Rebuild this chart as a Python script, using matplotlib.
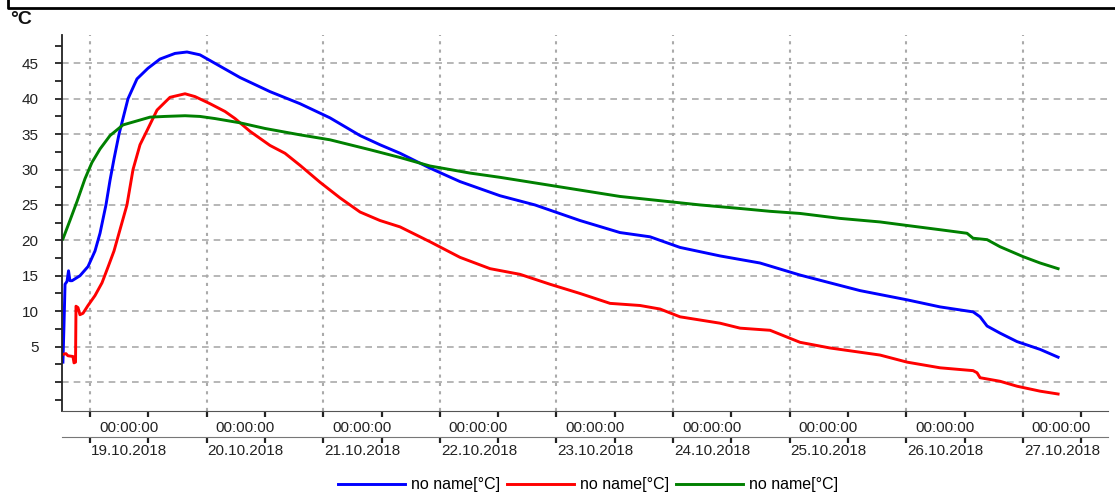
import numpy as np
import pandas as pd
import matplotlib
matplotlib.use('Agg')
import matplotlib.pyplot as plt
import matplotlib.dates as mdates
from matplotlib.ticker import MultipleLocator
from matplotlib.transforms import ScaledTranslation
from matplotlib.lines import Line2D

plt.rcParams['font.family'] = ['Liberation Sans', 'DejaVu Sans']

# time in days since 19.10.2018 00:00, temperature in degC
blue_days = [-0.232, -0.223, -0.214, -0.197, -0.184, -0.172, -0.154, -0.086, -0.017, 0.043,
             0.086, 0.137, 0.172, 0.206, 0.249, 0.326, 0.403, 0.497, 0.600, 0.729,
             0.832, 0.943, 1.029, 1.286, 1.544, 1.801, 2.058, 2.316, 2.487, 2.659, 2.916,
             3.173, 3.516, 3.816, 4.202, 4.545, 4.803, 5.060, 5.403, 5.746, 6.089,
             6.346, 6.604, 7.007, 7.290, 7.573, 7.633, 7.693, 7.804, 7.950, 8.148, 8.302]
blue_temp = [2.8, 8.0, 13.8, 14.2, 15.7, 14.3, 14.3, 15.0, 16.3, 18.5,
             21.0, 25.0, 28.5, 31.5, 35.0, 40.0, 42.8, 44.3, 45.6, 46.4,
             46.6, 46.2, 45.4, 43.0, 41.0, 39.3, 37.3, 34.8, 33.5, 32.3, 30.2,
             28.3, 26.3, 25.0, 22.8, 21.1, 20.5, 19.0, 17.8, 16.8, 15.1,
             14.0, 12.9, 11.6, 10.6, 9.9, 9.2, 7.9, 6.9, 5.7, 4.6, 3.5]

red_days = [-0.232, -0.206, -0.189, -0.146, -0.137, -0.124, -0.120, -0.103, -0.086, -0.060,
            -0.017, 0.043, 0.103, 0.154, 0.206, 0.317, 0.369, 0.429, 0.489,
            0.575, 0.686, 0.815, 0.901, 1.029, 1.158, 1.244, 1.372, 1.544, 1.672,
            1.801, 1.973, 2.144, 2.316, 2.487, 2.659, 2.916, 3.173, 3.431, 3.688,
            3.945, 4.202, 4.460, 4.717, 4.889, 5.060, 5.403, 5.575, 5.832, 6.089,
            6.346, 6.604, 6.775, 7.007, 7.290, 7.573, 7.607, 7.633, 7.804, 7.950,
            8.148, 8.302]
red_temp = [3.9, 4.0, 3.7, 3.6, 2.7, 2.8, 10.7, 10.5, 9.5, 9.7,
            10.8, 12.2, 14.0, 16.2, 18.5, 25.0, 30.0, 33.5, 35.5,
            38.4, 40.2, 40.7, 40.3, 39.3, 38.2, 37.2, 35.4, 33.4, 32.3,
            30.6, 28.2, 26.0, 24.0, 22.8, 21.9, 19.8, 17.6, 16.0, 15.2,
            13.8, 12.5, 11.1, 10.8, 10.3, 9.2, 8.3, 7.6, 7.3, 5.6,
            4.8, 4.2, 3.8, 2.8, 2.0, 1.6, 1.3, 0.6, 0.1, -0.6,
            -1.3, -1.7]

green_days = [-0.232, -0.172, -0.111, -0.043, 0.017, 0.086, 0.172, 0.283, 0.515, 0.643,
              0.815, 0.943, 1.072, 1.286, 1.501, 1.801, 2.058, 2.401, 2.659, 2.916,
              3.259, 3.516, 3.859, 4.202, 4.545, 4.889, 5.232, 5.575, 5.832, 6.089,
              6.432, 6.775, 7.007, 7.290, 7.521, 7.573, 7.693, 7.804, 8.002, 8.148, 8.302]
green_temp = [20.2, 22.8, 25.5, 28.7, 31.0, 32.9, 34.8, 36.3, 37.4, 37.5,
              37.6, 37.5, 37.2, 36.6, 35.8, 34.9, 34.2, 32.8, 31.7, 30.5,
              29.5, 28.9, 28.0, 27.1, 26.2, 25.6, 25.0, 24.5, 24.1, 23.8,
              23.1, 22.6, 22.1, 21.5, 21.0, 20.3, 20.1, 19.1, 17.7, 16.8, 16.0]

series_labels = ['no name[°C]', 'no name[°C]', 'no name[°C]']
y_ticks = [0, 5, 10, 15, 20, 25, 30, 35, 40, 45]
y_labels = ['', '5', '10', '15', '20', '25', '30', '35', '40', '45']

start = pd.Timestamp('2018-10-19')
def to_time(days):
    return start + pd.to_timedelta(np.array(days), unit='D')

fig = plt.figure(figsize=(11.15, 4.96), dpi=100)
ax = fig.add_axes([62/1115, 1 - 411/496, (1108 - 62)/1115, (411 - 35)/496])

ax.plot(to_time(blue_days), blue_temp, color='#0000ff', lw=2.1, label=series_labels[0])
ax.plot(to_time(red_days), red_temp, color='#ff0000', lw=2.1, label=series_labels[1])
ax.plot(to_time(green_days), green_temp, color='#008000', lw=2.1, label=series_labels[2])

ax.set_xlim(to_time([-0.24])[0], to_time([8.73])[0])
ax.set_ylim(-4.1, 49.0)

for s in ['top', 'right']:
    ax.spines[s].set_visible(False)
ax.spines['left'].set_color('#222222')
ax.spines['left'].set_linewidth(1.3)
ax.spines['bottom'].set_color('#555555')

ax.set_yticks(y_ticks)
ax.set_yticklabels(y_labels)
ax.yaxis.set_minor_locator(MultipleLocator(2.5))
ax.tick_params(axis='y', which='both', length=5, width=1.3, color='#222222',
               labelsize=11, labelcolor='#222222', pad=12)

ax.xaxis.set_major_locator(mdates.DayLocator())
ax.xaxis.set_minor_locator(mdates.HourLocator(byhour=[12]))
ax.xaxis.set_major_formatter(mdates.DateFormatter('%H:%M:%S'))
ax.tick_params(axis='x', which='both', length=4, width=1.6, color='#222222',
               labelsize=11, labelcolor='#222222', pad=3)
for lbl in ax.get_xticklabels():
    lbl.set_horizontalalignment('left')
    lbl.set_transform(lbl.get_transform() + ScaledTranslation(0.09, 0, fig.dpi_scale_trans))

sec = ax.secondary_xaxis(-26/376)
sec.xaxis.set_major_locator(mdates.DayLocator())
sec.xaxis.set_minor_locator(mdates.HourLocator(byhour=[12]))
sec.xaxis.set_major_formatter(mdates.DateFormatter('%d.%m.%Y'))
sec.spines['bottom'].set_color('#777777')
sec.tick_params(axis='x', which='both', length=4, width=1.6, color='#222222',
                labelsize=11, labelcolor='#222222', pad=1)
for lbl in sec.xaxis.get_ticklabels():
    lbl.set_horizontalalignment('left')
    lbl.set_transform(lbl.get_transform() + ScaledTranslation(0.01, 0, fig.dpi_scale_trans))

ax.grid(axis='y', which='major', color='#aaaaaa', ls=(0, (4, 3)), lw=1.2)
ax.grid(axis='x', which='major', color='#aaaaaa', ls=(0, (1.5, 2.5)), lw=1.5)

fig.text(10/1115, 1 - 20/496, '°C', fontsize=14, fontweight='bold', va='center', color='#111111')

# frame fragment at top
fig.add_artist(Line2D([8/1115, 8/1115, 1], [1, 1 - 8/496, 1 - 8/496],
                      transform=fig.transFigure, color='black', lw=2))

fig.legend(loc='center', bbox_to_anchor=(588/1115, 1 - 485/496), ncol=3, frameon=False,
           fontsize=11.5, handlelength=4.2, columnspacing=0.4, handletextpad=0.4)

fig.savefig('out.png', dpi=100)
